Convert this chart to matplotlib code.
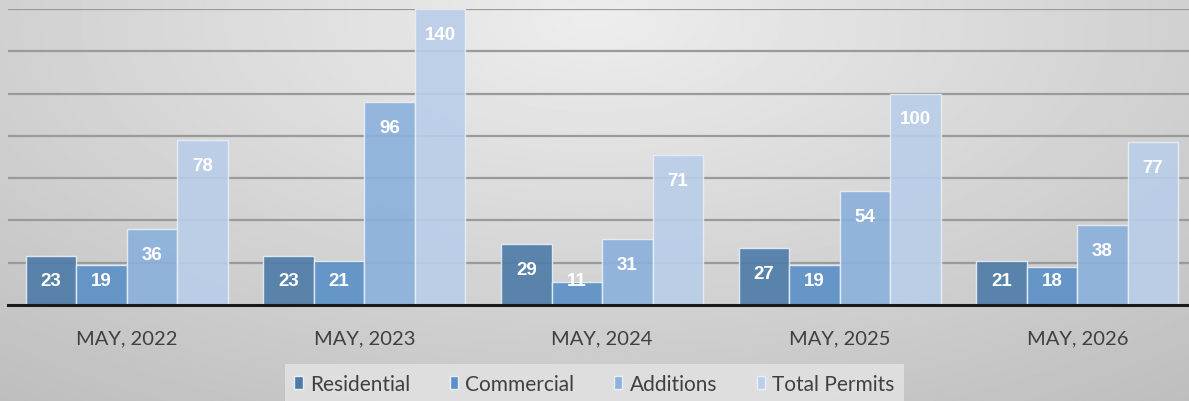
import numpy as np
import matplotlib
matplotlib.use("Agg")
import matplotlib.pyplot as plt

# data
months = ["MAY, 2022", "MAY, 2023", "MAY, 2024", "MAY, 2025", "MAY, 2026"]
residential = [23, 23, 29, 27, 21]
commercial = [19, 21, 11, 19, 18]
additions = [36, 96, 31, 54, 38]
total_permits = [78, 140, 71, 100, 77]

series = [
    ("Residential", residential, "#4d7ba7"),
    ("Commercial", commercial, "#5990c6"),
    ("Additions", additions, "#8bb1dc"),
    ("Total Permits", total_permits, "#bacee9"),
]

plt.rcParams["font.family"] = ["Lato", "DejaVu Sans"]

fig = plt.figure(figsize=(11.89, 4.02), dpi=100)

# grey radial background like the Excel chart area
bg = fig.add_axes([0, 0, 1, 1], zorder=-10)
yy, xx = np.mgrid[0:1:300j, 0:1:800j]
r = np.sqrt(((xx - 0.5) / 0.75) ** 2 + ((yy - 0.05) / 1.1) ** 2)
shade = 0.93 - 0.17 * np.clip(r, 0, 1.2)
bg.imshow(shade, cmap="gray", vmin=0, vmax=1, aspect="auto", extent=[0, 1, 1, 0])
bg.axis("off")

ax = fig.add_axes([0.0067, 0.2388, 0.9933, 0.7363])
ax.patch.set_alpha(0)

x = np.arange(len(months))
w = 0.2125
for i, (name, vals, col) in enumerate(series):
    pos = x + (i - 1.5) * w
    ax.bar(pos, vals, width=w, color=col, alpha=0.9, edgecolor="#e8eef6",
           linewidth=1.0, label=name, zorder=3)
    for p, v in zip(pos, vals):
        ax.text(p, max(v - 12, 11.5), str(v), ha="center", va="center",
                color="white", fontsize=13.5, fontweight="bold",
                family="Liberation Sans", zorder=5)

ax.set_ylim(0, 140)
ax.set_xlim(-0.5, 4.47)
ax.set_yticks(range(20, 141, 20))
ax.yaxis.grid(True, color="#9a9a9a", linewidth=1.6, zorder=1)
ax.set_axisbelow(True)
ax.tick_params(axis="y", left=False, labelleft=False)
ax.tick_params(axis="x", bottom=False, pad=14)
ax.set_xticks(x)
ax.set_xticklabels(months, fontsize=14.5, color="#404040")
for s in ["top", "right", "left"]:
    ax.spines[s].set_visible(False)
ax.spines["bottom"].set_color("#1a1a1a")
ax.spines["bottom"].set_linewidth(2.2)
ax.spines["bottom"].set_zorder(6)

leg = fig.legend(loc="center", bbox_to_anchor=(0.5, 0.043), ncol=4, fontsize=15,
                 frameon=True, handlelength=0.4, handleheight=0.55,
                 handletextpad=0.35, columnspacing=1.9, borderpad=0.45)
leg.get_frame().set_facecolor("#e4e4e4")
leg.get_frame().set_edgecolor("none")
leg.get_frame().set_boxstyle("square", pad=0.0)
for t in leg.get_texts():
    t.set_color("#404040")
for h in leg.legend_handles:
    h.set_alpha(1)

fig.savefig("out.png", dpi=100)
